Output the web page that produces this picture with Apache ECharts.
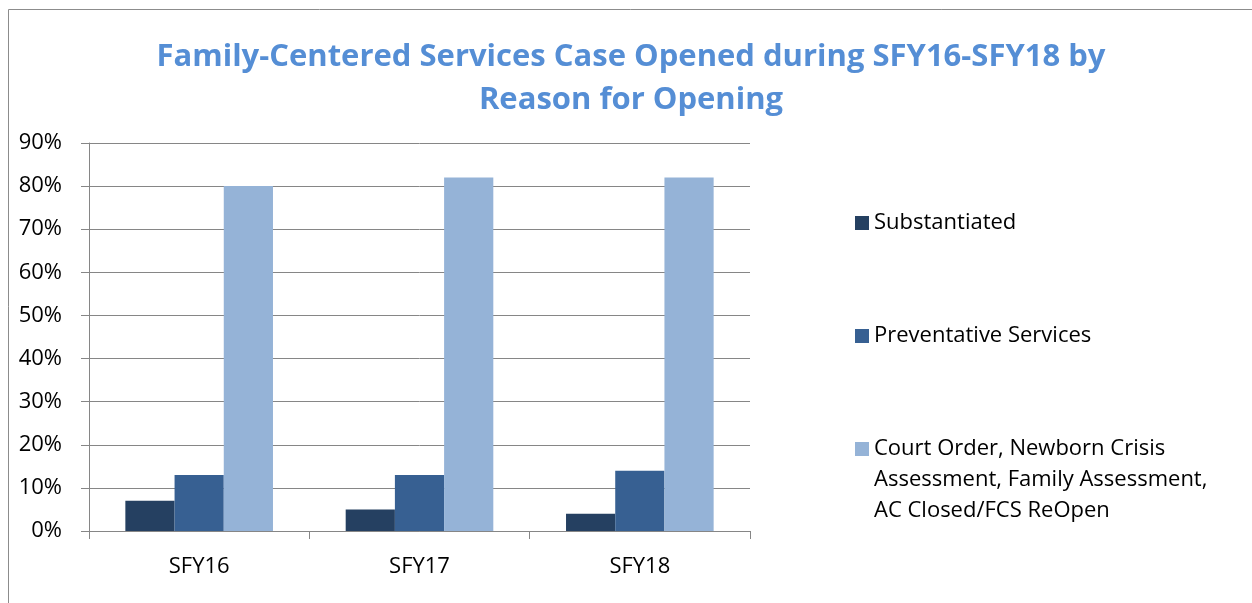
<!DOCTYPE html>
<html><head><meta charset="utf-8">
<script src="https://cdn.jsdelivr.net/npm/echarts@6/dist/echarts.min.js"></script>
<style>html,body{margin:0;padding:0;background:#fff}#c{width:1252px;height:603px}</style>
</head><body><div id="c"></div>
<script>
const categories = ['SFY16', 'SFY17', 'SFY18'];
const substantiated = [7, 5, 4];
const preventative = [13, 13, 14];
const courtOrder = [80, 82, 82];
const yTicks = { min: 0, max: 90, interval: 10 };
const seriesNames = ['Substantiated', 'Preventative Services', 'Court Order, Newborn Crisis\nAssessment, Family Assessment,\nAC Closed/FCS ReOpen'];

const FONT = '"Open Sans", "Noto Sans", sans-serif';
const chart = echarts.init(document.getElementById('c'));
const legendText = { fontFamily: FONT, fontSize: 22, color: '#000', lineHeight: 31 };
chart.setOption({
  animation: false,
  title: {
    text: 'Family-Centered Services Case Opened during SFY16-SFY18 by\nReason for Opening',
    left: 631, top: 36, textAlign: 'center', padding: 0,
    textStyle: { fontFamily: FONT, fontSize: 31, fontWeight: 'bold', color: '#558ED5', lineHeight: 43 }
  },
  graphic: [{ type: 'rect', shape: { x: 8.5, y: 9.5, width: 1300, height: 700 }, style: { fill: 'none', stroke: '#8c8c8c', lineWidth: 1 }, silent: true, z: -10 }],
  legend: [
    { data: [seriesNames[0]], orient: 'vertical', left: 855, top: 207.5, padding: 0, itemWidth: 14, itemHeight: 14, itemGap: 0, icon: 'rect', textStyle: legendText, selectedMode: false },
    { data: [seriesNames[1]], orient: 'vertical', left: 855, top: 320.5, padding: 0, itemWidth: 14, itemHeight: 14, itemGap: 0, icon: 'rect', textStyle: legendText, selectedMode: false },
    { data: [seriesNames[2]], orient: 'vertical', left: 855, top: 371.5, padding: 0, itemWidth: 14, itemHeight: 14, itemGap: 0, icon: 'rect', textStyle: legendText, selectedMode: false,
      formatter: function (n) { return '\n\n' + n; } }
  ],
  grid: { left: 89, right: 502, top: 143, bottom: 72, containLabel: false },
  xAxis: {
    type: 'category', data: categories,
    axisLine: { lineStyle: { color: '#868686', width: 1 } },
    axisTick: { show: true, length: 8, lineStyle: { color: '#868686' } },
    axisLabel: { fontFamily: FONT, fontSize: 22, color: '#000', margin: 25 }
  },
  yAxis: {
    type: 'value', min: yTicks.min, max: yTicks.max, interval: yTicks.interval,
    axisLine: { show: true, lineStyle: { color: '#868686', width: 1 } },
    axisTick: { show: true, length: 8, lineStyle: { color: '#868686' } },
    splitLine: { lineStyle: { color: '#868686', width: 1 } },
    axisLabel: { fontFamily: FONT, fontSize: 22, color: '#000', margin: 27, formatter: '{value}%' }
  },
  series: [
    { name: seriesNames[0], type: 'bar', data: substantiated, barGap: '0%', barCategoryGap: '33%', itemStyle: { color: '#254061' } },
    { name: seriesNames[1], type: 'bar', data: preventative, barGap: '0%', barCategoryGap: '33%', itemStyle: { color: '#376092' } },
    { name: seriesNames[2], type: 'bar', data: courtOrder, barGap: '0%', barCategoryGap: '33%', itemStyle: { color: '#95B3D7' } }
  ]
});
</script></body></html>
